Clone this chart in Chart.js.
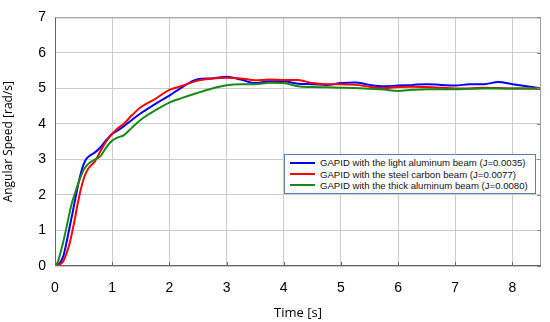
<!DOCTYPE html>
<html>
<head>
<meta charset="utf-8">
<script src="https://cdn.jsdelivr.net/npm/chart.js@4.4.1/dist/chart.umd.min.js"></script>
<style>
  html, body { margin: 0; padding: 0; background: #fff; }
  #wrap { position: relative; width: 550px; height: 322px; }
  #legend {
    position: absolute; left: 284px; top: 154px; width: 250px; height: 36px;
    border: 1px solid #5a7fb4; background: #fff;
    font-family: Arial, "Liberation Sans", sans-serif; font-size: 9.6px; color: #111;
    padding-top: 2px;
  }
  #legend .item { display: flex; align-items: center; height: 11.4px; }
  #legend .swatch { width: 25px; height: 2px; margin-left: 5px; margin-right: 5px; }
</style>
</head>
<body>
<div id="wrap">
  <canvas id="chart" width="550" height="322"></canvas>
  <div id="legend"></div>
</div>
<script>
const TIME = [0, 0.05, 0.1, 0.15, 0.2, 0.25, 0.3, 0.35, 0.4, 0.45, 0.5, 0.55, 0.6, 0.7, 0.8, 0.9,
  1.0, 1.1, 1.2, 1.35, 1.5, 1.75, 2.0, 2.2, 2.5, 2.75, 3.0, 3.25, 3.5, 3.75, 4.0, 4.25, 4.5,
  4.75, 5.0, 5.25, 5.5, 5.75, 6.0, 6.25, 6.5, 6.75, 7.0, 7.25, 7.5, 7.75, 8.0, 8.25, 8.5];

const LIGHT_ALU = [0, 0.03, 0.12, 0.3, 0.65, 1.05, 1.44, 1.85, 2.25, 2.6, 2.86, 3.02, 3.1, 3.2, 3.35, 3.55,
  3.72, 3.82, 3.93, 4.12, 4.3, 4.56, 4.8, 5.01, 5.26, 5.28, 5.33, 5.25, 5.15, 5.2, 5.2, 5.13, 5.12,
  5.1, 5.15, 5.17, 5.1, 5.06, 5.08, 5.1, 5.12, 5.1, 5.08, 5.12, 5.12, 5.18, 5.12, 5.06, 5.0];

const STEEL_CARBON = [0, 0.02, 0.06, 0.15, 0.35, 0.6, 0.95, 1.35, 1.78, 2.15, 2.45, 2.65, 2.78, 2.95, 3.25, 3.52,
  3.72, 3.88, 4.0, 4.25, 4.47, 4.7, 4.96, 5.06, 5.22, 5.28, 5.3, 5.28, 5.23, 5.25, 5.24, 5.24, 5.15,
  5.12, 5.12, 5.1, 5.05, 5.01, 5.04, 5.05, 5.04, 5.02, 5.0, 5.0, 5.02, 5.01, 5.0, 5.0, 4.98];

const THICK_ALU = [0, 0.12, 0.4, 0.72, 1.08, 1.46, 1.8, 2.05, 2.3, 2.52, 2.7, 2.82, 2.9, 3.0, 3.1, 3.35,
  3.53, 3.62, 3.68, 3.9, 4.12, 4.38, 4.6, 4.72, 4.88, 5.0, 5.09, 5.12, 5.12, 5.16, 5.15, 5.06, 5.04,
  5.03, 5.02, 5.01, 4.99, 4.97, 4.93, 4.96, 4.98, 4.98, 4.98, 4.99, 5.0, 5.0, 5.0, 5.0, 5.01];

const X_TICKS = [0, 1, 2, 3, 4, 5, 6, 7, 8];
const Y_TICKS = [0, 1, 2, 3, 4, 5, 6, 7];

const SERIES = [
  { label: "GAPID with the light aluminum beam (J=0.0035)", data: LIGHT_ALU, color: "#0000ff" },
  { label: "GAPID with the steel carbon beam (J=0.0077)", data: STEEL_CARBON, color: "#ff0000" },
  { label: "GAPID with the thick aluminum beam (J=0.0080)", data: THICK_ALU, color: "#168a16" },
];

const FONT = "Arial, 'Liberation Sans', sans-serif";

// frame round the plot area, darker on left/bottom, little inside ticks
const framePlugin = {
  id: "frame",
  afterDraw(chart) {
    const { ctx, chartArea: a, scales } = chart;
    ctx.save();
    ctx.strokeStyle = "#a0a0a0";
    ctx.lineWidth = 1;
    ctx.strokeRect(a.left + 0.5, a.top + 0.5, a.right - a.left - 1, a.bottom - a.top - 1);
    ctx.strokeStyle = "#666";
    ctx.beginPath();
    ctx.moveTo(a.left + 0.5, a.top);
    ctx.lineTo(a.left + 0.5, a.bottom - 0.5);
    ctx.lineTo(a.right, a.bottom - 0.5);
    X_TICKS.forEach((v) => {
      const px = Math.round(scales.x.getPixelForValue(v)) + 0.5;
      ctx.moveTo(px, a.bottom);
      ctx.lineTo(px, a.bottom - 4);
    });
    ctx.stroke();
    ctx.strokeStyle = "#888";
    ctx.beginPath();
    Y_TICKS.forEach((v) => {
      const py = Math.round(scales.y.getPixelForValue(v)) + 0.5;
      ctx.moveTo(a.right, py);
      ctx.lineTo(a.right - 4, py);
    });
    ctx.stroke();
    ctx.restore();
  },
};

new Chart(document.getElementById("chart"), {
  type: "line",
  data: {
    datasets: SERIES.map((s) => ({
      label: s.label,
      data: TIME.map((t, i) => ({ x: t, y: s.data[i] })),
      borderColor: s.color,
      borderWidth: 2,
      pointRadius: 0,
      fill: false,
      cubicInterpolationMode: "monotone",
    })).reverse(),
  },
  options: {
    responsive: false,
    animation: false,
    layout: { padding: { top: 6, right: 9, left: 0, bottom: 0 } },
    plugins: { legend: { display: false }, tooltip: { enabled: false } },
    scales: {
      x: {
        type: "linear",
        min: 0,
        max: 8.5,
        afterFit(scale) { scale.height = 56; },
        afterBuildTicks(scale) { scale.ticks = X_TICKS.map((v) => ({ value: v })); },
        grid: { color: "#cccccc", drawTicks: false },
        border: { display: false },
        ticks: {
          autoSkip: false,
          maxRotation: 0,
          padding: 14,
          color: "#000",
          font: { family: FONT, size: 14 },
        },
        title: {
          display: true,
          text: "Time [s]",
          color: "#000",
          font: { family: "'Open Sans', sans-serif", size: 13 },
          padding: { top: 4, bottom: 1 },
        },
      },
      y: {
        min: 0,
        max: 7,
        afterFit(scale) { scale.width = 55; },
        afterBuildTicks(scale) { scale.ticks = Y_TICKS.map((v) => ({ value: v })); },
        grid: { color: "#cccccc", drawTicks: false },
        border: { display: false },
        ticks: {
          autoSkip: false,
          padding: 9,
          color: "#000",
          font: { family: FONT, size: 14 },
        },
        title: {
          display: true,
          text: "Angular Speed [rad/s]",
          color: "#000",
          font: { family: "'Open Sans', sans-serif", size: 12 },
          padding: { top: 1, bottom: 0 },
        },
      },
    },
  },
  plugins: [framePlugin],
});

document.getElementById("legend").innerHTML = SERIES.map((s) =>
  `<div class="item"><span class="swatch" style="background:${s.color}"></span>${s.label}</div>`
).join("");
</script>
</body>
</html>
